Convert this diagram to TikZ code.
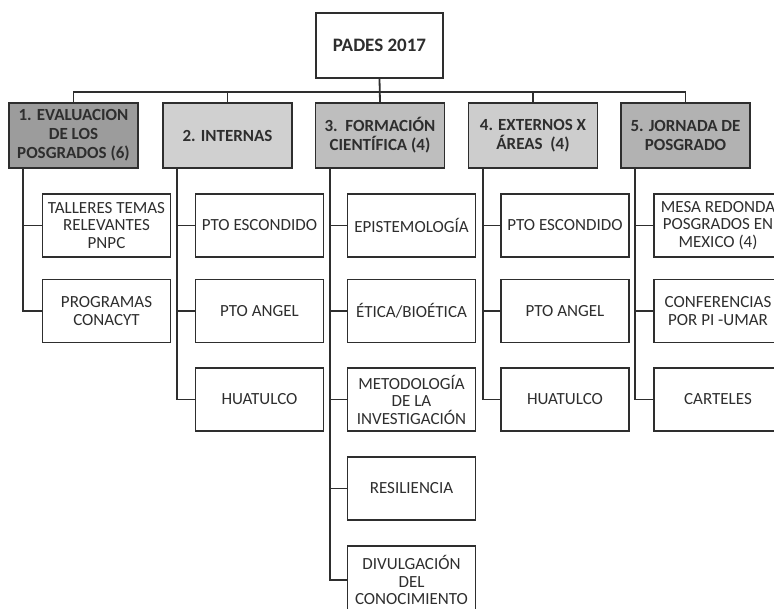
\documentclass[tikz,border=0pt]{standalone}
\usepackage{fontspec}
\setmainfont{Carlito}
\definecolor{ink}{HTML}{2E2E2E}
\definecolor{gA}{HTML}{9C9C9C}
\definecolor{gB}{HTML}{D0D0D0}
\definecolor{gC}{HTML}{BEBEBE}
\definecolor{gD}{HTML}{CDCDCD}
\definecolor{gE}{HTML}{B2B2B2}
\begin{document}
\begin{tikzpicture}[x=1pt,y=-1pt,
  box/.style={draw=ink,line width=1.8pt,align=center,inner sep=1pt,
    minimum width=128pt,minimum height=63pt,text=ink,
    font=\fontsize{17}{17.5}\selectfont},
  head/.style={box,font=\bfseries\fontsize{17}{19}\selectfont,minimum height=65pt,minimum width=129pt},
  conn/.style={draw=ink,line width=1.8pt}]
\clip (0,0) rectangle (774,608);
\fill[white] (0,0) rectangle (774,608);
% top
\node[box,fill=white,font=\bfseries\fontsize{19}{21}\selectfont,minimum width=127pt,minimum height=65pt] (top) at (379.5,45.5) {PADES 2017};
% level 1
\node[head,fill=gA] (p1) at (73.5,135.5) {1. EVALUACION\\DE LOS\\POSGRADOS (6)};
\node[head,fill=gB] (p2) at (227.5,135.5) {2. INTERNAS};
\node[head,fill=gC] (p3) at (380,135.5) {3.\ \ FORMACIÓN\\CIENTÍFICA (4)};
\node[head,fill=gD] (p4) at (533,135.5) {4. EXTERNOS X\\ÁREAS\ \ (4)};
\node[head,fill=gE] (p5) at (685.5,135.5) {5. JORNADA DE\\POSGRADO};
% level 2
\node[box,fill=white] (c11) at (106.5,225.5) {TALLERES TEMAS\\RELEVANTES\\PNPC};
\node[box,fill=white] (c12) at (106.5,311) {PROGRAMAS\\CONACYT};
\node[box,fill=white] (c21) at (259.5,225.5) {PTO ESCONDIDO};
\node[box,fill=white] (c22) at (259.5,311) {PTO ANGEL};
\node[box,fill=white] (c23) at (259.5,399.5) {HUATULCO};
\node[box,fill=white] (c31) at (411.5,225.5) {EPISTEMOLOGÍA};
\node[box,fill=white] (c32) at (411.5,311) {ÉTICA/BIOÉTICA};
\node[box,fill=white] (c33) at (411.5,399.5) {METODOLOGÍA\\DE LA\\INVESTIGACIÓN};
\node[box,fill=white] (c34) at (411.5,488.5) {RESILIENCIA};
\node[box,fill=white,minimum height=68pt] (c35) at (411.5,580) {DIVULGACIÓN\\DEL\\CONOCIMIENTO};
\node[box,fill=white] (c41) at (565,225.5) {PTO ESCONDIDO};
\node[box,fill=white] (c42) at (565,311) {PTO ANGEL};
\node[box,fill=white] (c43) at (565,399.5) {HUATULCO};
\node[box,fill=white] (c51) at (718,225.5) {MESA REDONDA\\POSGRADOS EN\\MEXICO (4)};
\node[box,fill=white] (c52) at (718,311) {CONFERENCIAS\\POR PI -UMAR};
\node[box,fill=white] (c53) at (718,399.5) {CARTELES};
% bus
\draw[conn] (top.south) -- ++(0,13) -| (p1.north);
\draw[conn] (top.south) -- ++(0,13) -| (p2.north);
\draw[conn] (top.south) -- (p3.north);
\draw[conn] (top.south) -- ++(0,13) -| (p4.north);
\draw[conn] (top.south) -- ++(0,13) -| (p5.north);
% trunks
\foreach \p/\cs in {p1/{c11,c12},p2/{c21,c22,c23},p3/{c31,c32,c33,c34,c35},p4/{c41,c42,c43},p5/{c51,c52,c53}}{
  \foreach \c in \cs {
    \draw[conn] ([xshift=15pt]\p.south west) |- (\c.west);
  }
}
\end{tikzpicture}
\end{document}
